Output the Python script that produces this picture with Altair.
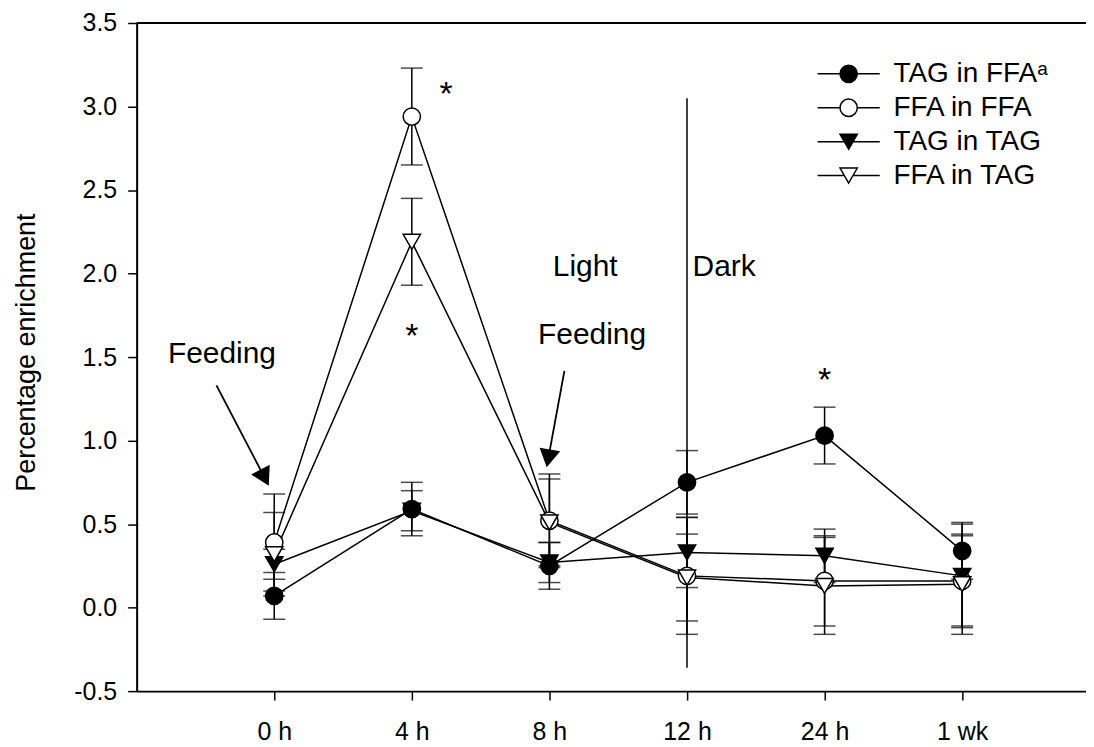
import json
import altair as alt
import pandas as pd

# ---------------- data ----------------
times = ["0 h", "4 h", "8 h", "12 h", "24 h", "1 wk"]
series = ["TAG in FFAᵃ", "FFA in FFA", "TAG in TAG", "FFA in TAG"]

tag_in_ffa = [0.07, 0.59, 0.25, 0.75, 1.03, 0.34]
tag_in_ffa_se = [0.14, 0.16, 0.14, 0.19, 0.17, 0.17]
ffa_in_ffa = [0.39, 2.94, 0.52, 0.19, 0.16, 0.16]
ffa_in_ffa_se = [0.29, 0.29, 0.28, 0.35, 0.27, 0.27]
tag_in_tag = [0.26, 0.58, 0.27, 0.33, 0.31, 0.19]
tag_in_tag_se = [0.09, 0.12, 0.12, 0.21, 0.16, 0.31]
ffa_in_tag = [0.32, 2.19, 0.51, 0.18, 0.13, 0.14]
ffa_in_tag_se = [0.25, 0.26, 0.26, 0.26, 0.29, 0.30]

y_ticks = [-0.5, 0.0, 0.5, 1.0, 1.5, 2.0, 2.5, 3.0, 3.5]

# annotations (in data coordinates: x = time index, y = enrichment)
ann_text = ["*", "*", "*", "Light", "Dark", "Feeding", "Feeding"]
ann_x = [1.25, 1.0, 4.0, 2.26, 3.27, -0.38, 2.31]
ann_y = [3.13, 1.68, 1.415, 2.04, 2.04, 1.52, 1.63]

arrow_x = [-0.42, 2.109]
arrow_y = [1.33, 1.417]
arrow_x2 = [-0.08, 1.996]
arrow_y2 = [0.794, 0.911]
arrow_angle = [152.5, 190.25]

divider_x = [3]
divider_y = [-0.36]
divider_y2 = [3.05]

# ---------------- tables ----------------
vals = [tag_in_ffa, ffa_in_ffa, tag_in_tag, ffa_in_tag]
errs = [tag_in_ffa_se, ffa_in_ffa_se, tag_in_tag_se, ffa_in_tag_se]
rows = []
for s, vv, ee in zip(series, vals, errs):
    for i, (v, e) in enumerate(zip(vv, ee)):
        rows.append({"series": s, "t": i, "value": v, "lo": v - e, "hi": v + e})
df = pd.DataFrame(rows)

ann = pd.DataFrame({"text": ann_text, "x": ann_x, "y": ann_y})
arrows = pd.DataFrame({"x": arrow_x, "y": arrow_y, "x2": arrow_x2, "y2": arrow_y2, "angle": arrow_angle})
divider = pd.DataFrame({"x": divider_x, "y": divider_y, "y2": divider_y2})
top = pd.DataFrame({"v": [y_ticks[-1]]})

FONT = "Liberation Sans"

# marker styles
marker_shape = {series[0]: "circle", series[1]: "circle", series[2]: "triangle-down", series[3]: "triangle-down"}
marker_fill = {series[0]: "black", series[1]: "white", series[2]: "black", series[3]: "white"}
legend_paths = [
    "M-3.6,0H-1M1,0H3.6M1,0A1,1 0 1,1 -1,0A1,1 0 1,1 1,0Z",
    "M-3.6,0H-1M1,0H3.6M1,0A1,1 0 1,1 -1,0A1,1 0 1,1 1,0Z",
    "M-3.6,0H-0.5M0.5,0H3.6M0,0.866L-1,-0.866L1,-0.866Z",
    "M-3.6,0H-0.5M0.5,0H3.6M0,0.866L-1,-0.866L1,-0.866Z",
]

xscale = alt.Scale(domain=[-1, 5.9], nice=False, zero=False)
yscale = alt.Scale(domain=[y_ticks[0], y_ticks[-1]], nice=False, zero=False)

xaxis = alt.Axis(
    values=list(range(len(times))),
    labelExpr=json.dumps(times) + "[datum.value]",
    title=None, grid=False, tickSize=9, tickWidth=1.5, labelPadding=20,
    labelFont=FONT, labelFontSize=25, labelColor="black",
    domainColor="black", domainWidth=2, tickColor="black",
)
yaxis = alt.Axis(
    values=y_ticks,
    labelExpr="replace(format(datum.value, '.1f'), '\u2212', '-')",
    title="Percentage enrichment", grid=False, tickSize=9, tickWidth=1.5, labelPadding=11,
    labelFont=FONT, labelFontSize=25, labelColor="black",
    domainColor="black", domainWidth=2, tickColor="black",
    titleFont=FONT, titleFontSize=27, titleFontWeight="normal", titleColor="black",
    titleAngle=270, titleBaseline="alphabetic", titleAlign="center", titleX=-102, titleY=330,
)


def X(f):
    return alt.X(f, type="quantitative", scale=xscale, axis=xaxis)


def Y(f):
    return alt.Y(f, type="quantitative", scale=yscale, axis=yaxis)


top_rule = alt.Chart(top).mark_rule(color="black", strokeWidth=2).encode(y=Y("v"))

div = alt.Chart(divider).mark_rule(color="black", strokeWidth=1.5).encode(
    x=X("x"), y=Y("y"), y2="y2"
)

lines = alt.Chart(df).mark_line(color="black", strokeWidth=1.5).encode(
    x=X("t"), y=Y("value"), detail="series:N", order="t:Q"
)

errbars = alt.Chart(df).mark_errorbar(
    orient="vertical",
    ticks={"size": 22, "thickness": 1.5, "color": "black"},
    rule={"strokeWidth": 1.5, "color": "black"},
    color="black",
).encode(x=X("t"), y=Y("lo"), y2="hi")

point_layers = []
for s in series:
    point_layers.append(
        alt.Chart(df).transform_filter(alt.datum.series == s).mark_point(
            filled=True, size=300, stroke="black", strokeWidth=1.5, opacity=1
        ).encode(
            x=X("t"), y=Y("value"),
            shape=alt.value(marker_shape[s]), fill=alt.value(marker_fill[s]),
        )
    )

leg = alt.Legend(
    orient="none", legendX=700, legendY=37, title=None, padding=0,
    symbolSize=300, symbolStrokeWidth=1.5, symbolStrokeColor="black", symbolOpacity=1,
    labelFont=FONT, labelFontSize=28, labelColor="black", labelLimit=400,
    labelOffset=31, rowPadding=6,
)
legend_layer = alt.Chart(df).mark_point(
    filled=False, size=300, strokeWidth=1.5, opacity=0
).encode(
    x=X("t"), y=Y("value"),
    shape=alt.Shape("series:N", scale=alt.Scale(domain=series, range=legend_paths), legend=leg),
    fill=alt.Fill("series:N", scale=alt.Scale(domain=series, range=[marker_fill[s] for s in series]), legend=leg),
    stroke=alt.Stroke("series:N", scale=alt.Scale(domain=series, range=["black"] * len(series)), legend=leg),
)

arrow_lines = alt.Chart(arrows).mark_rule(color="black", strokeWidth=1.8).encode(
    x=X("x"), y=Y("y"), x2="x2", y2="y2"
)
arrow_heads = alt.Chart(arrows).mark_point(
    shape="triangle", filled=True, size=440, color="black", opacity=1
).encode(x=X("x2"), y=Y("y2"), angle=alt.Angle("angle:Q", scale=None))

words = alt.Chart(ann).transform_filter(alt.datum.text != "*").mark_text(
    font=FONT, fontSize=30, color="black", align="center", baseline="middle"
).encode(x=X("x"), y=Y("y"), text="text:N")

stars = alt.Chart(ann).transform_filter(alt.datum.text == "*").mark_text(
    font=FONT, fontSize=34, color="black", align="center", baseline="middle", dy=10
).encode(x=X("x"), y=Y("y"), text="text:N")

chart = alt.layer(
    top_rule, div, lines, errbars, *point_layers, legend_layer,
    arrow_lines, arrow_heads, words, stars,
).properties(
    width=952, height=670,
    autosize=alt.AutoSizeParams(type="none"),
    padding={"left": 129, "top": 14, "right": 0, "bottom": 55},
).configure_view(stroke=None).configure(background="white")

chart.save("out.html", embed_options={"renderer": "svg", "actions": False})
